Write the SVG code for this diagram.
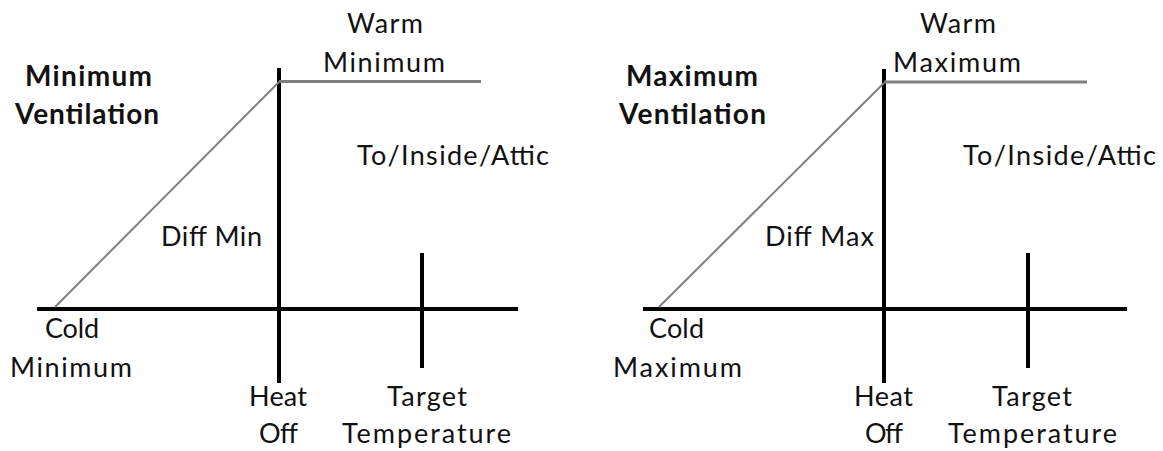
<svg xmlns="http://www.w3.org/2000/svg" width="1163" height="451" viewBox="0 0 1163 451">
<style>
text{font-family:Lato,"Open Sans","Liberation Sans",sans-serif;fill:#111;font-size:27px}
.b{font-weight:bold;font-size:28px}
.ax{stroke:#000;stroke-width:4;fill:none}
.g1{stroke:#7f7f7f;stroke-width:3;fill:none}
.g2{stroke:#7f7f7f;stroke-width:2;fill:none}
</style>
<rect width="1163" height="451" fill="#fff"/>
<g id="connectors">
<path class="ax" d="M37 309H518M279 68V383M422 253V368"/>
<path class="g1" d="M279 81.5H481"/>
<path class="g2" d="M55 307L279 82"/>
<path class="ax" d="M643 309H1127M884 69V383M1028 253V368"/>
<path class="g1" d="M884 82H1087"/>
<path class="g2" d="M659 307L884 83"/>
</g>
<g id="left-title"><text class="b" x="25" y="86" textLength="127">Minimum</text><text class="b" x="15" y="124" textLength="144">Ventilation</text></g>
<g id="left-warm"><text x="347" y="33" textLength="76">Warm</text><text x="323" y="72" textLength="122">Minimum</text></g>
<g id="left-zone"><text x="357" y="165" textLength="192">To/Inside/Attic</text></g>
<g id="left-diff"><text x="161" y="246" textLength="101">Diff Min</text></g>
<g id="left-cold"><text x="45" y="338" textLength="54">Cold</text><text x="10" y="377" textLength="122">Minimum</text></g>
<g id="left-heat"><text x="249" y="406" textLength="58">Heat</text><text x="259" y="443" textLength="39">Off</text></g>
<g id="left-target"><text x="387" y="406" textLength="80">Target</text><text x="342" y="443" textLength="169">Temperature</text></g>
<g id="right-title"><text class="b" x="626" y="86" textLength="132">Maximum</text><text class="b" x="619" y="124" textLength="147">Ventilation</text></g>
<g id="right-warm"><text x="920" y="33" textLength="76">Warm</text><text x="893" y="72" textLength="128">Maximum</text></g>
<g id="right-zone"><text x="963" y="165" textLength="193">To/Inside/Attic</text></g>
<g id="right-diff"><text x="765" y="246" textLength="109">Diff Max</text></g>
<g id="right-cold"><text x="649" y="338" textLength="55">Cold</text><text x="613" y="377" textLength="129">Maximum</text></g>
<g id="right-heat"><text x="854" y="406" textLength="59">Heat</text><text x="865" y="443" textLength="38">Off</text></g>
<g id="right-target"><text x="992" y="406" textLength="80">Target</text><text x="948" y="443" textLength="169">Temperature</text></g>
</svg>
